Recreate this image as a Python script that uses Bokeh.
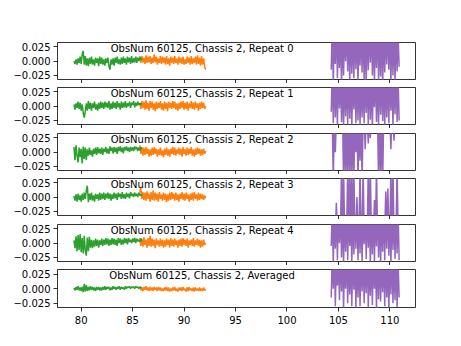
import numpy as np
from bokeh.plotting import figure
from bokeh.layouts import column
from bokeh.models import Range1d, FixedTicker, Label, CustomJSTickFormatter
from bokeh.embed import file_html
from bokeh.resources import INLINE

# ---- data (values in units of 1e-3) ----
titles = [
    "ObsNum 60125, Chassis 2, Repeat 0",
    "ObsNum 60125, Chassis 2, Repeat 1",
    "ObsNum 60125, Chassis 2, Repeat 2",
    "ObsNum 60125, Chassis 2, Repeat 3",
    "ObsNum 60125, Chassis 2, Repeat 4",
    "ObsNum 60125, Chassis 2, Averaged",
]
green_x0, orange_x0, purple_x0, step = 79.3, 85.7, 104.3, 0.1

green_r0 = [0,-5,3,-6,5,-3,8,-5,12,18, -6,9,-8,5,-9,6,-5,8,-6,3, -8,6,-3,5,-9,8,-5,6,-6,3,
            -8,5,-3,6,-9,-15,3,-6,5,-8, 6,-3,8,-5,3,-6,6,-5,8,-3, 5,-6,8,-2,6,-5,9,-3,5,-2, 8,-3,6,0,8,2,5]
green_r1 = [3,-6,5,-3,8,-5,6,-8,3,-12, -20,-9,5,-8,9,-5,6,-8,5,-3, 8,-6,3,-8,6,-5,8,-3,6,-5,
            8,-2,6,-3,9,-6,5,-5,8,-3, 6,-5,9,-2,5,-6,8,-3,6,-2, 9,-3,5,0,8,-3,6,2,9,-2, 6,0,8,2,5,3,5]
green_r2 = [9,-14,12,-6,-18,8,-9,6,-20,10, -12,8,-14,5,-6,8,-5,3,-8,6, -3,8,-5,9,-2,6,-3,8,-5,6,
            0,9,-2,6,-3,10,2,8,-2,9, 0,8,-3,9,2,10,0,8,-2,9, 3,10,2,8,0,9,3,8,2,10, 5,9,2,8,3,9,5]
green_r3 = [2,-6,5,-8,6,-5,3,-8,6,-5, 8,-3,12,20,-9,6,-5,8,-6,3, -8,6,-3,5,-6,8,-5,6,-3,8,
            -5,6,-2,8,-3,6,-6,5,-3,8, -2,6,-5,8,0,6,-3,9,-2,5, -3,8,0,6,-2,9,2,6,0,8, 2,6,0,8,3,5,2]
green_r4 = [5,-9,12,-14,14,-12,16,-16,9,-18, 13,-13,-22,10,-14,11,-8,6,-9,5, -6,8,-5,6,-8,5,-3,8,-5,6,
            -3,9,-2,8,-5,6,-3,9,-2,8, -3,6,-5,9,0,8,-3,6,-2,9, 0,8,-2,9,2,6,0,8,2,9, 0,8,3,6,2,8,3]
green_av = [1,-3,3,-2,4,-3,2,-4,3,-6, 8,-5,6,-4,3,-3,4,-2,3,-3, 2,-4,3,-2,3,-3,2,-3,3,-2,
            4,-2,3,0,3,-3,2,-2,4,0, 3,-2,3,0,4,-2,3,0,2,-2, 4,0,3,2,4,0,3,2,3,0, 4,2,3,0,3,2,2]

orange_r0 = [5,-3,9,-2,6,-5,10,-3,8,-2, 9,-5,6,-3,12,-2,8,-6,5,-3, 9,-5,8,-3,6,-6,9,-5,5,-8,
             8,-3,6,-5,9,-3,5,-6,8,-3, 6,-5,8,-6,3,-5,8,-3,6,-6, 9,-5,5,-3,8,-6,10,-5,6,-8, 9,-6,5,-10,-15]
orange_r1 = [6,-5,9,-3,8,-6,10,-5,6,-8, 9,-3,8,-6,5,-9,8,-5,6,-3, 9,-6,5,-8,8,-5,6,-9,8,-3,
             6,-5,9,-3,8,-6,5,-8,6,-5, 8,-3,9,-6,6,-5,8,-8,5,-3, 9,-5,6,-6,8,-3,5,-8,6,-5, 8,-3,6,-5,0]
orange_r2 = [12,-3,9,-6,8,-5,9,-3,6,-8, 5,-6,8,-5,9,-3,6,-8,5,-5, 8,-6,3,-9,6,-5,8,-6,5,-8,
             6,-3,9,-5,8,-6,5,-3,8,-5, 6,-8,9,-3,5,-6,8,-5,6,-3, 9,-6,5,-8,6,-5,8,-3,6,-6, 5,-5,6,-3,2]
orange_r3 = [8,16,-3,9,-5,8,-6,10,-3,6, -8,9,-5,12,-6,8,-5,6,-8,9, -3,5,-6,8,-5,6,-9,5,-6,8,
             -5,9,-3,6,-6,8,-5,5,-8,6, -3,9,-5,6,-6,8,-3,5,-8,6, -5,8,-6,9,-3,5,-6,8,-5,6, -3,5,-5,3,-2]
orange_r4 = [9,-5,8,-6,10,-3,6,-8,9,-5, 13,-6,8,-5,6,-9,8,-3,5,-6, 8,-5,6,-8,5,-6,8,-3,6,-8,
             9,-5,6,-6,8,-3,5,-8,6,-5, 8,-6,9,-3,6,-5,8,-8,5,-3, 6,-5,9,-6,5,-3,8,-5,6,-8, 5,-6,6,-3,0]
orange_av = [3,-3,2,-4,3,-2,4,-3,2,-4, 3,-3,2,-4,3,-2,2,-4,3,-3, 2,-4,0,-4,2,-3,3,-4,2,-5,
             0,-4,2,-3,3,-4,0,-5,2,-3, 2,-4,3,-3,0,-5,2,-4,3,-3, 0,-4,2,-5,2,-3,0,-4,2,-4, 0,-4,2,-3,-1]

purple_r0 = [-15,60,-40,55,-5,70,-30,50,-12,65,-45,60,-25,55,0,70,-18,60,-40,65,-22,55,-30,60,
             -14,70,-38,50,-8,65,-20,60,-35,55,-42,70,-16,60,-3,65,-25,55,-40,60,-12,70,-33,50,
             -27,65,-45,60,-20,55,-6,70,-15,60,-38,65,-25,55,-35,60,-18,45,-10]
purple_r1 = [-10,60,-30,65,-20,55,-35,70,-4,60,-28,55,-40,65,-18,60,-32,70,-22,55,-38,60,-6,65,
             -30,55,-25,70,-35,60,-20,55,-30,65,-12,60,-35,70,-24,55,-40,60,-2,65,-28,55,-33,70,
             -15,60,-26,55,-38,65,-20,60,-30,70,-8,55,-36,60,-14,65,-28,50,-25]
purple_r2 = [60,60,-50,60,0,60,60,60,60,60, 60,60,-50,60,-50,60,-50,60,-50,60, -50,60,-50,60,0,60,-50,60,-15,60,
             -50,60,60,5,60,60,15,60,25,60, 60,60,60,60,60,60,-50,60,-50,60, -50,60,60,60,60,60,60,60,5,60,
             60,20,60,60,60,60,60]
purple_r3 = [-60,-60,-60,-60,-60,-10,-60,-60,-60,-60, 50,-60,50,-60,-60,-60,50,-60,50,-60, 50,-60,50,-60,-60,0,-60,-60,50,-60,
             -60,50,-60,-60,-60,-60,50,-60,50,-60, -60,-60,-5,-60,50,-60,-60,-60,-60,-60, -60,-60,-60,10,-60,15,-60,-60,50,-60,
             50,-60,-60,-60,50,-60,-60]
purple_r4 = [-5,60,-35,55,-10,65,-30,60,0,70,-25,55,-40,60,-15,65,-30,60,-5,55,-35,65,-20,60,
             -10,70,-30,55,-18,60,-35,65,-2,60,-28,70,-8,55,-38,60,-20,65,-32,55,-6,70,-25,60,
             -40,55,-15,65,-30,60,-10,70,-22,55,-36,60,-12,65,-28,60,-18,55,-30]
purple_av = [-15,60,0,65,-30,55,5,60,-20,70,-5,60,-35,55,0,65,-25,60,-10,55,-30,65,-2,60,
             -35,70,-15,55,-30,60,-5,65,-25,60,-8,70,-32,55,-12,60,-28,65,0,55,-35,60,-18,70,
             -22,55,-6,60,-30,65,-15,55,-38,60,-10,70,-25,55,-20,60,-32,45,-15]

greens = [green_r0, green_r1, green_r2, green_r3, green_r4, green_av]
oranges = [orange_r0, orange_r1, orange_r2, orange_r3, orange_r4, orange_av]
purples = [purple_r0, purple_r1, purple_r2, purple_r3, purple_r4, purple_av]

x_ticks = [80, 85, 90, 95, 100, 105, 110]
y_ticks = [-0.025, 0.0, 0.025]
UNIT = 1e-3

FONT = "DejaVu Sans"
heights = [83, 45, 46, 45, 46, 81]
tops = [42, 4, 5, 4, 5, 4]
bottoms = [4, 4, 4, 4, 4, 39]

fmt_code = "return (tick < 0 ? '\\u2212' : '') + Math.abs(tick).toFixed(3);"
blank_code = "return '';"

figs = []
for i in range(6):
    p = figure(width=461, height=heights[i], output_backend="svg", toolbar_location=None,
               x_range=Range1d(77.70, 112.49), y_range=Range1d(-0.0322, 0.0327),
               min_border_left=57, min_border_right=46,
               min_border_top=tops[i], min_border_bottom=bottoms[i])
    p.background_fill_color = "white"
    p.border_fill_color = "white"
    p.outline_line_color = "black"
    p.outline_line_width = 0.8
    p.grid.visible = False

    def xs(x0, n):
        return x0 + step * np.arange(n)

    o, g, pu = oranges[i], greens[i], purples[i]
    p.line(xs(orange_x0, len(o)), np.array(o) * UNIT, line_color="#ff7f0e", line_width=1.5)
    p.line(xs(green_x0, len(g)), np.array(g) * UNIT, line_color="#2ca02c", line_width=1.5)
    p.line(xs(purple_x0, len(pu)), np.array(pu) * UNIT, line_color="#9467bd", line_width=1.5)

    for ax in (p.xaxis[0], p.yaxis[0]):
        ax.axis_line_color = None
        ax.major_tick_line_color = "black"
        ax.major_tick_line_width = 0.8
        ax.major_tick_out = 4
        ax.major_tick_in = 0
        ax.minor_tick_line_color = None
        ax.major_label_text_font = FONT
        ax.major_label_text_font_size = "10px"
        ax.major_label_text_color = "black"

    p.yaxis[0].ticker = FixedTicker(ticks=y_ticks)
    p.yaxis[0].formatter = CustomJSTickFormatter(code=fmt_code)
    p.yaxis[0].major_label_standoff = 3
    p.xaxis[0].ticker = FixedTicker(ticks=x_ticks)
    if i < 5:
        p.xaxis[0].formatter = CustomJSTickFormatter(code=blank_code)
        p.xaxis[0].major_label_standoff = 0
    else:
        p.xaxis[0].major_label_standoff = 4

    p.add_layout(Label(x=91.75, y=0.0222, text=titles[i], text_align="center",
                       text_baseline="alphabetic", text_font=FONT,
                       text_font_size="10px", text_color="black"))
    figs.append(p)

layout = column(*figs, spacing=0)
open("out.html", "w").write(file_html(layout, INLINE))
